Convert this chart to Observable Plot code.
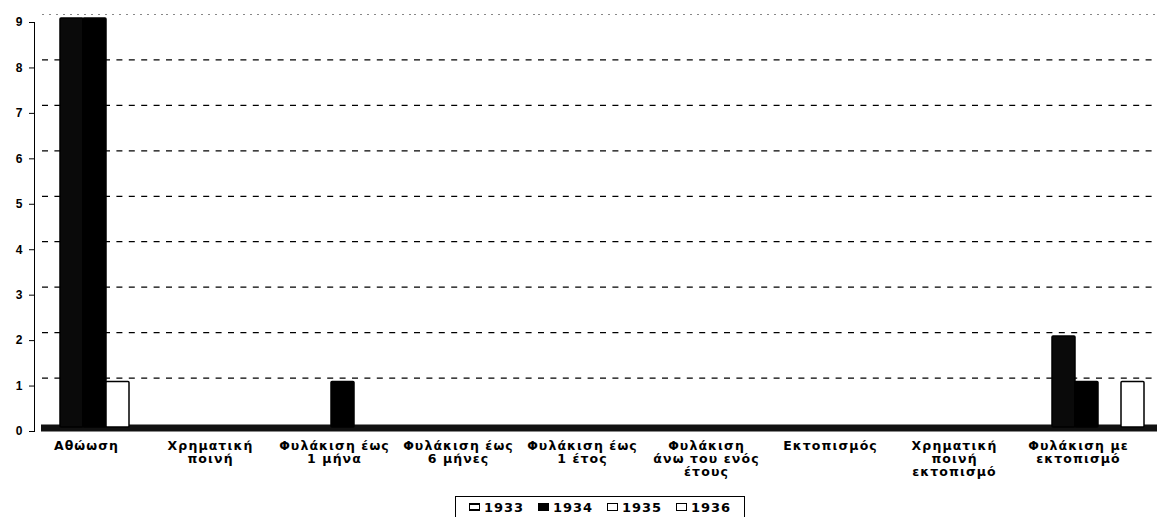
<!DOCTYPE html>
<html>
<head>
<meta charset="utf-8">
<script src="https://cdn.jsdelivr.net/npm/d3@7"></script>
<script src="https://cdn.jsdelivr.net/npm/@observablehq/plot@0.6"></script>
<style>
  html, body { margin: 0; padding: 0; background: #fff; }
  #chart { width: 1158px; height: 490px; }
  #chart svg text { font-weight: bold; }
  #chart svg g.catlabels text { font-family: "DejaVu Sans", sans-serif; font-weight: bold; letter-spacing: 1.1px; }
  #legend {
    position: absolute; left: 455px; top: 496px; width: 290px; height: 21px;
    border: 1px solid #000; border-bottom: none; box-sizing: border-box;
    font-family: "DejaVu Sans", sans-serif; font-size: 13px; font-weight: bold; letter-spacing: 1px;
    display: flex; align-items: center; justify-content: space-around; padding: 0 6px;
  }
  #legend .item { display: flex; align-items: center; gap: 4px; }
  #legend .sw { width: 11px; height: 8px; box-sizing: border-box; border: 1.5px solid #000; background: #fff; }
</style>
</head>
<body>
<div id="chart"></div>
<div id="legend"></div>
<script>
const categories = ["Αθώωση", "Χρηματική ποινή", "Φυλάκιση έως 1 μήνα", "Φυλάκιση έως 6 μήνες",
  "Φυλάκιση έως 1 έτος", "Φυλάκιση άνω του ενός έτους", "Εκτοπισμός",
  "Χρηματική ποινή εκτοπισμό", "Φυλάκιση με εκτοπισμό"];
const categoryLabels = ["Αθώωση", "Χρηματική\nποινή", "Φυλάκιση έως\n1 μήνα", "Φυλάκιση έως\n6 μήνες",
  "Φυλάκιση έως\n1 έτος", "Φυλάκιση\nάνω του ενός\nέτους", "Εκτοπισμός",
  "Χρηματική\nποινή\nεκτοπισμό", "Φυλάκιση με\nεκτοπισμό"];
const years = ["1933", "1934", "1935", "1936"];
const v1933 = [9, 0, 0, 0, 0, 0, 0, 0, 2];
const v1934 = [9, 0, 1, 0, 0, 0, 0, 0, 1];
const v1935 = [1, 0, 0, 0, 0, 0, 0, 0, 0];
const v1936 = [0, 0, 0, 0, 0, 0, 0, 0, 1];
const yTicks = [0, 1, 2, 3, 4, 5, 6, 7, 8, 9];
const gridValues = [1, 2, 3, 4, 5, 6, 7, 8];

const seriesValues = [v1933, v1934, v1935, v1936];
const fills = {"1933": "#0a0a0a", "1934": "#000", "1935": "#fff", "1936": "#fff"};

const rows = [];
categories.forEach((c, i) => {
  years.forEach((y, j) => {
    const v = seriesValues[j][i];
    if (v > 0) rows.push({cat: c, year: y, value: v});
  });
});
const labelRows = categories.map((c, i) => ({cat: c, label: categoryLabels[i]}));

const chart = Plot.plot({
  width: 1158, height: 490,
  marginTop: 22, marginBottom: 59, marginLeft: 33, marginRight: 8,
  style: {fontFamily: "Liberation Sans, Arial, sans-serif", fontSize: "12px", color: "#000", background: "#fff"},
  fx: {domain: categories, padding: 0, axis: null},
  x: {domain: years, paddingInner: 0, paddingOuter: 0.64, align: 0.8, axis: null},
  y: {domain: [0, 9], ticks: yTicks, tickSize: 5, tickPadding: 7, line: true, label: null, tickFormat: d => String(d)},
  marks: [
    Plot.ruleY([9], {stroke: "#888", strokeWidth: 1, strokeDasharray: "2,5", dy: -8, dx: 8}),
    Plot.ruleY(gridValues, {stroke: "#000", strokeWidth: 1.3, strokeDasharray: "6,6.4", dy: -8, dx: 8}),
    Plot.ruleY([0], {stroke: "#111", strokeWidth: 7, dy: -3.5, dx: 7}),
    Plot.barY(rows, {fx: "cat", x: "year", y: "value", fill: d => fills[d.year], stroke: "#000", strokeWidth: 1.5, rx: 1, dy: -4}),
    Plot.text(labelRows, {fx: "cat", text: "label", frameAnchor: "bottom", lineAnchor: "top", dy: 9, dx: -10, fontSize: 12.5, lineHeight: 1.05, className: "catlabels"})
  ]
});
document.getElementById("chart").appendChild(chart);

const legend = document.getElementById("legend");
years.forEach(y => {
  const item = document.createElement("div");
  item.className = "item";
  const sw = document.createElement("span");
  sw.className = "sw";
  if (y === "1934") { sw.style.background = "#000"; }
  if (y === "1933") { sw.style.borderWidth = "2.5px 1.5px"; }
  const t = document.createElement("span");
  t.textContent = y;
  item.appendChild(sw); item.appendChild(t);
  legend.appendChild(item);
});
</script>
</body>
</html>
